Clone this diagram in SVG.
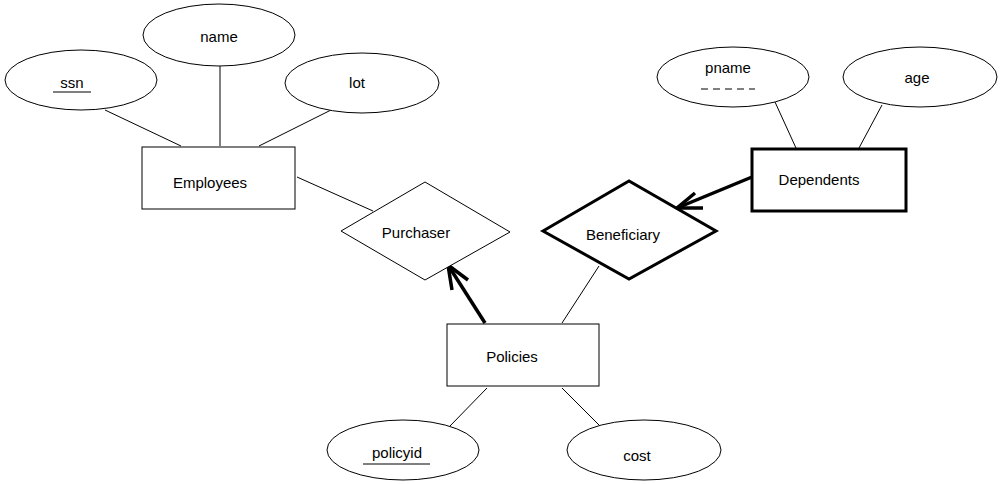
<svg xmlns="http://www.w3.org/2000/svg" width="1002" height="484" viewBox="0 0 1002 484">
<style>
.s{fill:#fff;stroke:#000;stroke-width:1}
.w{fill:#fff;stroke:#000;stroke-width:3}
.t{font-family:"Liberation Sans",Arial,sans-serif;font-size:15px;fill:#000;text-anchor:middle}
.c{stroke:#000;stroke-width:1;fill:none}
.a{stroke:#000;stroke-width:3.5;fill:none}
</style>
<rect width="1002" height="484" fill="#fff"/>
<g id="connectors">
<line class="c" x1="105" y1="110" x2="181" y2="146"/>
<line class="c" x1="220" y1="66" x2="220" y2="146"/>
<line class="c" x1="259" y1="146" x2="335" y2="108"/>
<line class="c" x1="297" y1="177" x2="373" y2="211"/>
<line class="c" x1="775" y1="102" x2="796" y2="148"/>
<line class="c" x1="882" y1="105" x2="859" y2="148"/>
<line class="c" x1="599" y1="266" x2="562" y2="323"/>
<line class="c" x1="450" y1="426" x2="487" y2="388"/>
<line class="c" x1="562" y1="388" x2="600" y2="426"/>
<line class="a" x1="752" y1="177" x2="677" y2="208"/>
<polyline class="a" points="695,193 677,208 703,208"/>
<line class="a" x1="485" y1="323" x2="448" y2="265"/>
<polyline class="a" points="452,290 448,265 468,280"/>
</g>
<g id="ssn"><ellipse class="s" cx="81" cy="80" rx="76" ry="30"/><text class="t" x="72" y="88">ssn</text><line class="c" x1="53" y1="92" x2="91" y2="92"/></g>
<g id="name"><ellipse class="s" cx="219" cy="35" rx="76" ry="31"/><text class="t" x="219" y="42">name</text></g>
<g id="lot"><ellipse class="s" cx="362" cy="83" rx="77" ry="30"/><text class="t" x="357" y="88">lot</text></g>
<g id="employees"><rect class="s" x="142" y="147" width="153" height="62"/><text class="t" x="210" y="188">Employees</text></g>
<g id="purchaser"><polygon class="s" points="341,231 425,182 510,232 425,280"/><text class="t" x="416" y="238">Purchaser</text></g>
<g id="beneficiary"><polygon class="w" points="543,231 629,181 716,231 629,279"/><text class="t" x="623" y="240">Beneficiary</text></g>
<g id="dependents"><rect class="w" x="752" y="149" width="154" height="62"/><text class="t" x="819" y="185">Dependents</text></g>
<g id="pname"><ellipse class="s" cx="733" cy="77" rx="76" ry="30"/><text class="t" x="728" y="73">pname</text><line class="c" x1="701" y1="89" x2="755" y2="89" stroke-dasharray="7,5"/></g>
<g id="age"><ellipse class="s" cx="920" cy="77" rx="77" ry="30"/><text class="t" x="917" y="83">age</text></g>
<g id="policies"><rect class="s" x="447" y="324" width="152" height="62"/><text class="t" x="512" y="362">Policies</text></g>
<g id="policyid"><ellipse class="s" cx="403" cy="450" rx="76" ry="30"/><text class="t" x="397" y="458">policyid</text><line class="c" x1="363" y1="464" x2="430" y2="464"/></g>
<g id="cost"><ellipse class="s" cx="644" cy="450" rx="77" ry="30"/><text class="t" x="637" y="461">cost</text></g>
</svg>
